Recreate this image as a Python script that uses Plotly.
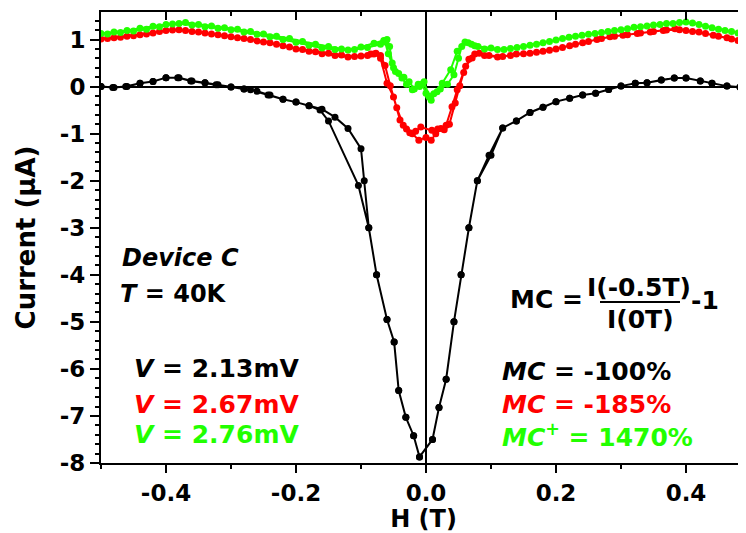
import plotly.graph_objects as go

# ---------------- data ----------------
black_H_fwd = [-0.50,-0.48,-0.46,-0.44,-0.42,-0.40,-0.38,-0.36,-0.34,-0.32,-0.30,-0.28,-0.26,-0.24,-0.22,-0.20,-0.18,-0.16,-0.14,-0.12,-0.10,-0.095,-0.088,-0.076,-0.060,-0.049,-0.042,-0.031,-0.019,-0.010,0.010,0.020,0.031,0.043,0.054,0.066,0.079,0.097,0.118,0.139,0.160,0.180,0.200,0.221,0.241,0.261,0.281,0.300,0.322,0.340,0.362,0.382,0.400,0.422,0.440,0.463,0.483,0.500]
black_I_fwd = [0.00,-0.02,0.00,0.07,0.11,0.19,0.19,0.12,0.08,0.04,-0.01,-0.05,-0.10,-0.18,-0.27,-0.33,-0.41,-0.48,-0.65,-0.89,-1.32,-2.0,-3.0,-4.0,-4.95,-5.43,-6.46,-7.03,-7.42,-7.87,-7.5,-6.82,-6.22,-5.0,-4.0,-3.0,-2.0,-1.46,-0.88,-0.73,-0.55,-0.44,-0.32,-0.25,-0.18,-0.14,-0.06,0.01,0.07,0.08,0.14,0.18,0.18,0.12,0.07,0.01,-0.01,0.0]
black_H_rev = [0.50,0.483,0.463,0.44,0.422,0.40,0.382,0.362,0.34,0.322,0.30,0.281,0.261,0.241,0.221,0.20,0.18,0.16,0.139,0.118,0.10,0.079,0.066,0.054,0.043,0.031,0.02,0.01,-0.01,-0.019,-0.031,-0.042,-0.049,-0.06,-0.076,-0.088,-0.104,-0.15,-0.163,-0.18,-0.20,-0.22,-0.243,-0.27,-0.28,-0.30,-0.323,-0.34,-0.362,-0.382,-0.40,-0.42,-0.44,-0.462,-0.482,-0.50]
black_I_rev = [0.0,-0.01,0.01,0.07,0.12,0.18,0.18,0.14,0.08,0.07,0.01,-0.06,-0.14,-0.18,-0.25,-0.32,-0.44,-0.55,-0.73,-0.88,-1.46,-2.0,-3.0,-4.0,-5.0,-6.22,-6.82,-7.5,-7.87,-7.42,-7.03,-6.46,-5.43,-4.95,-4.0,-3.0,-2.1,-0.73,-0.50,-0.41,-0.33,-0.27,-0.18,-0.07,-0.05,-0.01,0.04,0.08,0.12,0.19,0.19,0.11,0.07,0.0,-0.02,0.0]

red_H_fwd = [-0.50,-0.48,-0.46,-0.44,-0.42,-0.40,-0.38,-0.36,-0.34,-0.32,-0.30,-0.28,-0.26,-0.24,-0.22,-0.20,-0.18,-0.16,-0.14,-0.12,-0.10,-0.085,-0.077,-0.07,-0.06,-0.05,-0.04,-0.03,-0.021,-0.011,0.0,0.008,0.015,0.023,0.031,0.04,0.048,0.061,0.071,0.082,0.097,0.118,0.139,0.16,0.18,0.20,0.221,0.241,0.263,0.283,0.303,0.325,0.345,0.365,0.383,0.40,0.42,0.442,0.463,0.48,0.50]
red_I_fwd = [1.01,1.04,1.07,1.10,1.14,1.19,1.21,1.17,1.14,1.10,1.06,1.02,0.97,0.93,0.87,0.80,0.75,0.70,0.66,0.63,0.65,0.69,0.71,0.60,0.07,-0.22,-0.71,-0.90,-1.00,-1.14,-1.08,-1.14,-1.00,-0.89,-0.82,-0.43,-0.07,0.43,0.61,0.71,0.66,0.64,0.69,0.71,0.75,0.80,0.87,0.93,1.00,1.06,1.09,1.13,1.16,1.19,1.23,1.19,1.16,1.09,1.04,0.98,0.96]
red_H_rev = [0.49,0.47,0.45,0.43,0.41,0.39,0.37,0.35,0.33,0.31,0.29,0.27,0.25,0.23,0.21,0.19,0.17,0.15,0.13,0.11,0.09,0.075,0.066,0.058,0.052,0.045,0.036,0.028,0.018,0.009,-0.008,-0.016,-0.025,-0.035,-0.045,-0.055,-0.063,-0.07,-0.08,-0.09,-0.11,-0.13,-0.15,-0.17,-0.19,-0.21,-0.23,-0.25,-0.27,-0.29,-0.31,-0.33,-0.35,-0.37,-0.39,-0.41,-0.43,-0.45,-0.47,-0.49]
red_I_rev = [0.97,1.01,1.07,1.13,1.17,1.21,1.20,1.17,1.14,1.10,1.07,1.02,0.96,0.90,0.83,0.77,0.73,0.70,0.66,0.63,0.66,0.69,0.58,0.30,0.02,-0.35,-0.80,-0.92,-0.90,-0.93,-0.86,-0.95,-0.98,-0.82,-0.45,0.02,0.45,0.66,0.69,0.66,0.64,0.67,0.71,0.74,0.79,0.84,0.90,0.95,1.00,1.04,1.08,1.12,1.16,1.19,1.20,1.17,1.12,1.08,1.05,1.02]

green_H_fwd = [-0.50,-0.48,-0.46,-0.44,-0.42,-0.40,-0.38,-0.36,-0.34,-0.32,-0.30,-0.28,-0.26,-0.24,-0.22,-0.20,-0.18,-0.16,-0.14,-0.12,-0.10,-0.08,-0.065,-0.06,-0.056,-0.052,-0.047,-0.037,-0.03,-0.021,-0.01,-0.006,0.0,0.004,0.008,0.017,0.025,0.038,0.048,0.06,0.07,0.08,0.10,0.12,0.14,0.16,0.18,0.20,0.22,0.24,0.26,0.28,0.30,0.32,0.34,0.36,0.38,0.40,0.42,0.44,0.46,0.48,0.50]
green_I_fwd = [1.13,1.16,1.19,1.24,1.28,1.32,1.34,1.31,1.27,1.24,1.21,1.16,1.11,1.06,1.00,0.94,0.88,0.82,0.79,0.78,0.84,0.92,0.98,1.00,0.85,0.50,0.32,0.18,0.05,-0.07,0.00,0.05,-0.14,-0.20,-0.29,-0.11,0.07,0.36,0.75,0.95,0.90,0.85,0.82,0.79,0.83,0.88,0.93,0.99,1.05,1.09,1.13,1.17,1.21,1.26,1.29,1.32,1.34,1.37,1.32,1.25,1.19,1.14,1.12]
green_H_rev = [0.49,0.47,0.45,0.43,0.41,0.39,0.37,0.35,0.33,0.31,0.29,0.27,0.25,0.23,0.21,0.19,0.17,0.15,0.13,0.11,0.09,0.075,0.065,0.055,0.05,0.043,0.033,0.022,0.012,0.005,-0.003,-0.012,-0.018,-0.026,-0.034,-0.042,-0.05,-0.058,-0.063,-0.07,-0.09,-0.11,-0.13,-0.15,-0.17,-0.19,-0.21,-0.23,-0.25,-0.27,-0.29,-0.31,-0.33,-0.35,-0.37,-0.39,-0.41,-0.43,-0.45,-0.47,-0.49]
green_I_rev = [1.13,1.17,1.22,1.28,1.35,1.36,1.34,1.31,1.27,1.23,1.19,1.15,1.11,1.07,1.02,0.96,0.90,0.85,0.81,0.79,0.80,0.87,0.93,0.85,0.60,0.25,0.05,-0.05,-0.15,-0.22,0.10,0.05,-0.05,0.10,0.20,0.28,0.40,0.70,0.95,0.90,0.83,0.79,0.80,0.85,0.90,0.96,1.02,1.07,1.12,1.17,1.22,1.25,1.29,1.32,1.36,1.33,1.27,1.22,1.18,1.15,1.12]

x_tickvals = [-0.4, -0.2, 0.0, 0.2, 0.4]
x_ticktext = ["-0.4", "-0.2", "0.0", "0.2", "0.4"]
y_tickvals = [-8, -7, -6, -5, -4, -3, -2, -1, 0, 1]
y_ticktext = ["-8", "-7", "-6", "-5", "-4", "-3", "-2", "-1", "0", "1"]

BLACK = "#000000"
RED = "#ff0000"
GREEN = "#22ff00"
FONT = "DejaVu Sans"

fig = go.Figure()

series = [
    (black_H_fwd + black_H_rev, black_I_fwd + black_I_rev, BLACK, 7),
    (red_H_fwd + red_H_rev, red_I_fwd + red_I_rev, RED, 7),
    (green_H_fwd + green_H_rev, green_I_fwd + green_I_rev, GREEN, 7),
]
for xs, ys, col, ms in series:
    fig.add_trace(go.Scatter(
        x=xs, y=ys, mode="lines+markers",
        line=dict(color=col, width=2),
        marker=dict(color=col, size=ms, symbol="circle"),
        showlegend=False, hoverinfo="skip"))

# invisible trace for the top mirror axis
fig.add_trace(go.Scatter(x=[0], y=[0], xaxis="x2", mode="markers",
                         marker=dict(opacity=0), showlegend=False, hoverinfo="skip"))

# page body has an 8px margin, so the figure is drawn 8px in from the window corner
W, H = 738, 525
XR = [-0.5, 0.4923]
fig.update_layout(
    width=W, height=H,
    margin=dict(l=93, r=0, t=4, b=70),
    paper_bgcolor="white", plot_bgcolor="white",
    xaxis=dict(
        range=XR, showgrid=False, showline=True, linecolor=BLACK, linewidth=2,
        automargin=False,
        tickmode="array", tickvals=x_tickvals, ticktext=x_ticktext,
        ticks="outside", ticklen=8, tickwidth=2, tickcolor=BLACK,
        minor=dict(tickmode="linear", tick0=-0.5, dtick=0.1, ticks="outside",
                   ticklen=4, tickwidth=2, tickcolor=BLACK),
        tickfont=dict(family=FONT, size=23, color=BLACK, weight="bold"),
        zeroline=True, zerolinecolor=BLACK, zerolinewidth=2,
        title=dict(text="H (T)", font=dict(family=FONT, size=24, color=BLACK, weight="bold"), standoff=2),
    ),
    xaxis2=dict(
        range=XR, overlaying="x", side="top", anchor="y", showgrid=False,
        automargin=False,
        showline=True, linecolor=BLACK, linewidth=2, showticklabels=False,
        tickmode="linear", tick0=0, dtick=0.2,
        ticks="inside", ticklen=8, tickwidth=2, tickcolor=BLACK,
        minor=dict(tickmode="linear", tick0=-0.5, dtick=0.1, ticks="inside",
                   ticklen=4, tickwidth=2, tickcolor=BLACK),
        zeroline=False,
    ),
    yaxis=dict(
        range=[-8.0, 1.585], showgrid=False, showline=True, linecolor=BLACK, linewidth=2,
        automargin=False,
        tickmode="array", tickvals=y_tickvals, ticktext=y_ticktext,
        ticks="outside", ticklen=9, tickwidth=2, tickcolor=BLACK,
        minor=dict(tickmode="linear", tick0=0, dtick=0.2, ticks="outside",
                   ticklen=4, tickwidth=2, tickcolor=BLACK),
        tickfont=dict(family=FONT, size=23, color=BLACK, weight="bold"),
        zeroline=True, zerolinecolor=BLACK, zerolinewidth=2,
        title=dict(text="Current (μA)", font=dict(family=FONT, size=26, color=BLACK, weight="bold"), standoff=17),
    ),
)

PL, PT, PW, PH = 93, 4, W - 93, H - 4 - 70

def px(xw):  # window pixel -> paper x
    return (xw - 8 - PL) / PW

def py(yw):  # window pixel -> paper y
    return (PT + PH - (yw - 8)) / PH

def ann(text, xw, yw, color=BLACK, xanchor="left", size=25, italic=False):
    fig.add_annotation(
        text=text, x=px(xw), y=py(yw), xref="paper", yref="paper", showarrow=False,
        xanchor=xanchor, yanchor="middle",
        font=dict(family=FONT, size=size, color=color, weight="bold",
                  style="italic" if italic else "normal"))

ann("Device C", 120, 258, size=24, italic=True)
ann("<i>T</i> = 40K", 118, 294, size=24)
ann("<i>V</i> = 2.13mV", 132, 369)
ann("<i>V</i> = 2.67mV", 132, 404, color=RED)
ann("<i>V</i> = 2.76mV", 132, 434, color=GREEN)

ann("MC =", 508, 299)
ann("I(-0.5T)", 639, 287, xanchor="center")
ann("I(0T)", 640, 319, xanchor="center")
ann("-1", 689, 300)
fig.add_shape(type="line", xref="paper", yref="paper", x0=px(600), x1=px(680),
              y0=py(302), y1=py(302), line=dict(color=BLACK, width=2))

ann("<i>MC</i> = -100%", 500, 371)
ann("<i>MC</i> = -185%", 500, 404, color=RED)
ann("<i>MC</i><sup>+</sup> = 1470%", 500, 435, color=GREEN)

fig.write_html("out.html")
